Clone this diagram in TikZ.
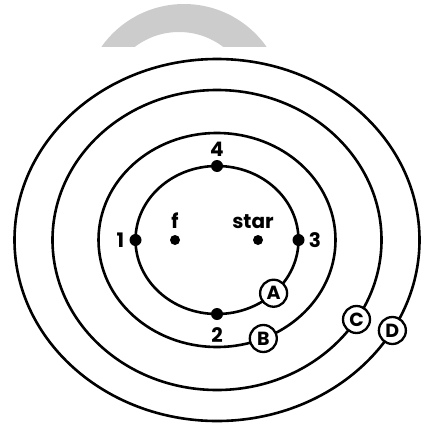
\documentclass[tikz,border=0pt]{standalone}
\usepackage{fontspec}
\setmainfont{Poppins}
\usetikzlibrary{positioning, calc}

\begin{document}
\begin{tikzpicture}[
  x=1pt, y=-1pt,
  orbit/.style={draw, line width=2.6pt},
  bigdot/.style={circle, fill, inner sep=0pt, minimum size=12pt},
  smalldot/.style={circle, fill, inner sep=0pt, minimum size=10pt},
  tag/.style={
    circle, draw, fill=white, line width=2.3pt,
    inner sep=0pt, minimum size=27pt,
    font=\fontsize{19}{19}\selectfont\bfseries,
  },
  lab/.style={font=\fontsize{20}{20}\selectfont\bfseries, inner sep=1pt},
]
\useasboundingbox (0,0) rectangle (425,423);

% Faded arc at the top
\begin{scope}
  \clip (0,0) rectangle (425,46);
  \fill[black!20, even odd rule] (184,105) circle [radius=101] (179,105) circle [radius=73];
\end{scope}

% Orbits
\coordinate (o) at (217,240);
\draw[orbit] (o) ellipse [x radius=81.5, y radius=74];
\draw[orbit] (o) ellipse [x radius=118.5, y radius=107];
\draw[orbit] (o) ellipse [x radius=164.5, y radius=150];
\draw[orbit] (o) ellipse [x radius=202.5, y radius=181];

% Orbit tags
\node[tag] (tagA) at ($(o)+(46:81.5 and 74)$) {A};
\node[tag] (tagB) at ($(o)+(67:118.5 and 107)$) {B};
\node[tag] (tagC) at ($(o)+(32:164.5 and 150)$) {C};
\node[tag] (tagD) at ($(o)+(30:202.5 and 181)$) {D};

% Points on the inner orbit
\node[bigdot] (p1) at ($(o)+(180:81.5 and 74)$) {};
\node[bigdot] (p2) at ($(o)+(90:81.5 and 74)$) {};
\node[bigdot] (p3) at ($(o)+(0:81.5 and 74)$) {};
\node[bigdot] (p4) at ($(o)+(270:81.5 and 74)$) {};
\node[lab, left=4pt of p1] {1};
\node[lab, below=6pt of p2] {2};
\node[lab, right=3pt of p3] {3};
\node[lab, above=2pt of p4] {4};

% Focus and star
\node[smalldot] (fdot) at (175,240) {};
\node[smalldot] (sdot) at (258,240) {};
\node[lab, above=5pt of fdot] {f};
\node[lab, above=5pt of sdot, xshift=-5pt] {star};

\end{tikzpicture}
\end{document}
